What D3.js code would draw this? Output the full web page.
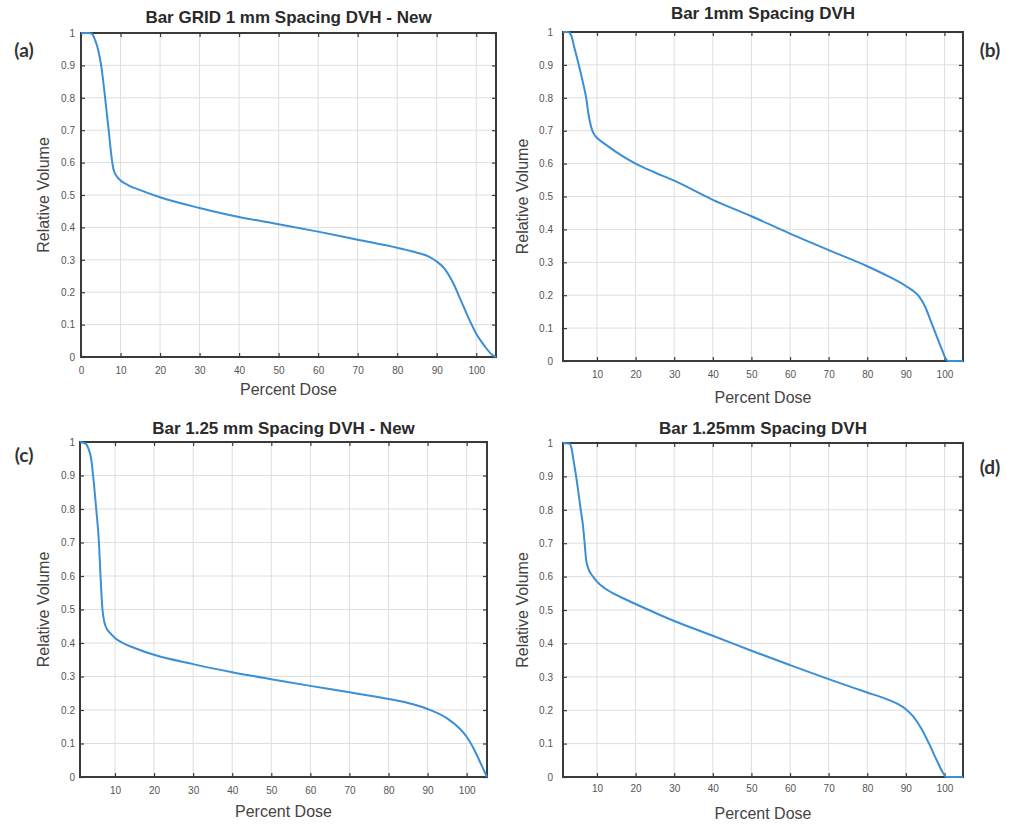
<!DOCTYPE html>
<html>
<head>
<meta charset="utf-8">
<script src="https://cdn.jsdelivr.net/npm/d3@7"></script>
<style>
  body { margin: 0; background: #fff; }
  svg { display: block; font-family: "Liberation Sans", Arial, sans-serif; }
  .grid line { stroke: #dedede; stroke-width: 1; }
  .axis path { display: none; }
  .axis line { stroke: #3a3a3a; stroke-width: 1.2; }
  .axis text { fill: #555; font-size: 10px; }
  .frame { fill: none; stroke: #3a3a3a; stroke-width: 2; }
  .curve { fill: none; stroke: #3a8fd6; stroke-width: 2; }
  .title { font-weight: bold; font-size: 17px; fill: #2a2a2a; }
  .axis-label { font-size: 16px; fill: #444; }
  .panel-tag { font-family: Lato, "Open Sans", sans-serif; font-weight: bold; font-size: 19px; fill: #333; }
</style>
</head>
<body>
<svg id="chart" width="1010" height="824"></svg>
<script>
// ---- data ----
const titles = [
  "Bar GRID 1 mm Spacing DVH - New",
  "Bar 1mm Spacing DVH",
  "Bar 1.25 mm Spacing DVH - New",
  "Bar 1.25mm Spacing DVH",
];
const panelTags = ["(a)", "(b)", "(c)", "(d)"];
const xLabel = "Percent Dose";
const yLabel = "Relative Volume";

const xTicks = [0, 10, 20, 30, 40, 50, 60, 70, 80, 90, 100];
const yTicks = [0, 0.1, 0.2, 0.3, 0.4, 0.5, 0.6, 0.7, 0.8, 0.9, 1];

const doseA = [0, 2, 2.8, 3.5, 4.3, 5.1, 6.1, 7.0, 7.7, 8.2, 8.9, 10, 12, 15, 20, 30, 40, 50, 60, 70, 80, 85, 88, 90, 92, 94, 96, 98, 100, 102, 104, 105];
const volA = [1, 1, 0.997, 0.98, 0.95, 0.9, 0.8, 0.7, 0.62, 0.58, 0.56, 0.545, 0.53, 0.515, 0.493, 0.46, 0.432, 0.41, 0.387, 0.362, 0.337, 0.322, 0.31, 0.295, 0.272, 0.232, 0.178, 0.122, 0.072, 0.036, 0.007, 0];

const doseB = [1.2, 2.5, 3.3, 4.2, 5.3, 6.3, 7.2, 7.8, 8.8, 9.5, 10.5, 12, 15, 20, 25, 30, 40, 50, 60, 70, 80, 85, 90, 92, 93.5, 95, 96.5, 98, 99.5, 100.5, 101, 104.8];
const volB = [1, 1, 0.99, 0.95, 0.9, 0.85, 0.8, 0.75, 0.7, 0.685, 0.673, 0.66, 0.635, 0.6, 0.573, 0.548, 0.49, 0.44, 0.387, 0.337, 0.288, 0.26, 0.228, 0.212, 0.195, 0.165, 0.12, 0.075, 0.03, 0.004, 0, 0];

const doseC = [1.05, 2.5, 3.2, 3.9, 4.4, 5.2, 5.9, 6.3, 6.8, 7.6, 8.9, 10, 12, 15, 20, 30, 40, 50, 60, 70, 80, 85, 90, 95, 98, 100, 102, 104, 105.2];
const volC = [1, 0.995, 0.98, 0.95, 0.9, 0.8, 0.7, 0.6, 0.5, 0.45, 0.428, 0.415, 0.4, 0.385, 0.365, 0.337, 0.313, 0.292, 0.272, 0.253, 0.233, 0.221, 0.203, 0.175, 0.147, 0.12, 0.08, 0.03, 0];

const doseD = [1.2, 2.9, 3.4, 3.9, 4.6, 5.8, 6.4, 6.8, 7.2, 7.9, 9, 10, 12, 15, 20, 30, 40, 50, 60, 70, 80, 85, 88, 90, 92, 94, 96, 98, 99.5, 100.5, 104.8];
const volD = [1, 0.998, 0.985, 0.95, 0.9, 0.8, 0.75, 0.7, 0.65, 0.62, 0.6, 0.585, 0.565, 0.545, 0.518, 0.467, 0.423, 0.378, 0.335, 0.293, 0.253, 0.233, 0.218, 0.203, 0.18, 0.145, 0.1, 0.05, 0.015, 0, 0];

const xDomains = [[0, 105], [1.2, 104.8], [1.05, 105.2], [1.2, 104.8]];
const doses = [doseA, doseB, doseC, doseD];
const volumes = [volA, volB, volC, volD];

// ---- layout (pixels) ----
const layouts = [
  { left: 81, top: 33, right: 496, bottom: 357, yPad: 6, xPad: 10, titleY: 17, tagX: 24, tagY: 50, xLabelY: 389, yLabelX: 43 },
  { left: 563, top: 32, right: 963, bottom: 361, yPad: 10, xPad: 10, titleY: 13, tagX: 990, tagY: 50, xLabelY: 397, yLabelX: 522 },
  { left: 80, top: 442, right: 487, bottom: 777, yPad: 5, xPad: 10, titleY: 428, tagX: 24, tagY: 455, xLabelY: 811, yLabelX: 43 },
  { left: 563, top: 443, right: 963, bottom: 777, yPad: 10, xPad: 8, titleY: 428, tagX: 990, tagY: 467, xLabelY: 813, yLabelX: 522 },
];

const svg = d3.select("#chart");
const yFormat = (d) => (d === 0 || d === 1 ? d3.format("d")(d) : d3.format(".1f")(d));

layouts.forEach((L, i) => {
  const x = d3.scaleLinear().domain(xDomains[i]).range([L.left, L.right]);
  const y = d3.scaleLinear().domain([0, 1]).range([L.bottom, L.top]);
  const ticks = xTicks.filter((t) => t >= xDomains[i][0] && t <= xDomains[i][1]);
  const g = svg.append("g").attr("class", "panel");

  // grid
  const grid = g.append("g").attr("class", "grid");
  grid.selectAll(".gx")
    .data(ticks)
    .join("line")
    .attr("x1", x).attr("x2", x)
    .attr("y1", L.top).attr("y2", L.bottom);
  grid.selectAll(".gy")
    .data(yTicks)
    .join("line")
    .attr("x1", L.left).attr("x2", L.right)
    .attr("y1", y).attr("y2", y);

  // axes, ticks pointing inward on all sides
  g.append("g").attr("class", "axis")
    .attr("transform", `translate(0,${L.bottom})`)
    .call(d3.axisBottom(x).tickValues(ticks).tickSizeInner(-4).tickSizeOuter(0).tickPadding(L.xPad));
  g.append("g").attr("class", "axis")
    .attr("transform", `translate(0,${L.top})`)
    .call(d3.axisTop(x).tickValues(ticks).tickSizeInner(-4).tickSizeOuter(0).tickFormat(""));
  g.append("g").attr("class", "axis")
    .attr("transform", `translate(${L.left},0)`)
    .call(d3.axisLeft(y).tickValues(yTicks).tickSizeInner(-4).tickSizeOuter(0).tickPadding(L.yPad).tickFormat(yFormat));
  g.append("g").attr("class", "axis")
    .attr("transform", `translate(${L.right},0)`)
    .call(d3.axisRight(y).tickValues(yTicks).tickSizeInner(-4).tickSizeOuter(0).tickFormat(""));

  // frame
  g.append("rect")
    .attr("class", "frame")
    .attr("x", L.left).attr("y", L.top)
    .attr("width", L.right - L.left).attr("height", L.bottom - L.top);

  // curve drawn over the frame so the zero tail stays visible
  const pts = doses[i].map((d, j) => [d, volumes[i][j]]);
  g.append("path")
    .attr("class", "curve")
    .attr("d", d3.line().x((d) => x(d[0])).y((d) => y(d[1])).curve(d3.curveMonotoneX)(pts));

  // texts
  g.append("text")
    .attr("class", "title")
    .attr("x", (L.left + L.right) / 2)
    .attr("y", L.titleY)
    .attr("dy", "0.35em")
    .attr("text-anchor", "middle")
    .text(titles[i]);
  g.append("text")
    .attr("class", "axis-label")
    .attr("x", (L.left + L.right) / 2)
    .attr("y", L.xLabelY)
    .attr("dy", "0.35em")
    .attr("text-anchor", "middle")
    .text(xLabel);
  g.append("text")
    .attr("class", "axis-label")
    .attr("transform", `translate(${L.yLabelX},${(L.top + L.bottom) / 2}) rotate(-90)`)
    .attr("dy", "0.35em")
    .attr("text-anchor", "middle")
    .text(yLabel);
  g.append("text")
    .attr("class", "panel-tag")
    .attr("x", L.tagX)
    .attr("y", L.tagY)
    .attr("dy", "0.35em")
    .attr("text-anchor", "middle")
    .text(panelTags[i]);
});
</script>
</body>
</html>
